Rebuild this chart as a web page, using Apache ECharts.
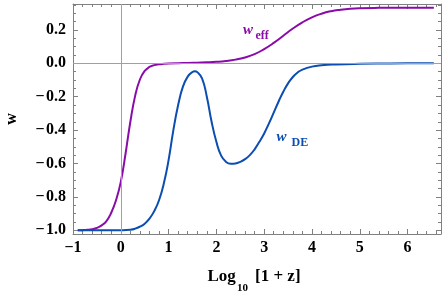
<!DOCTYPE html>
<html>
<head>
<meta charset="utf-8">
<script src="https://cdn.jsdelivr.net/npm/echarts@6/dist/echarts.min.js"></script>
<style>html,body{margin:0;padding:0;background:#fff}#c{width:442px;height:294px}</style>
</head>
<body>
<div id="c"></div>
<script>
// ---- data ----
var effX = [-0.9, -0.8, -0.7, -0.6, -0.5, -0.4, -0.3, -0.2, -0.1, 0.0, 0.1, 0.2, 0.3, 0.4, 0.5, 0.6, 0.7, 0.8, 0.9, 1.0, 1.2, 1.4, 1.6, 1.8, 2.0, 2.2, 2.4, 2.6, 2.8, 3.0, 3.2, 3.4, 3.6, 3.8, 4.0, 4.2, 4.4, 4.6, 4.8, 5.0, 5.4, 6.0, 6.55];
var effY = [-1.0, -0.999, -0.997, -0.993, -0.985, -0.97, -0.945, -0.895, -0.82, -0.71, -0.54, -0.35, -0.195, -0.097, -0.046, -0.022, -0.011, -0.006, -0.003, -0.001, 0.001, 0.002, 0.004, 0.006, 0.009, 0.014, 0.022, 0.035, 0.055, 0.085, 0.122, 0.165, 0.208, 0.245, 0.275, 0.297, 0.312, 0.321, 0.327, 0.33, 0.332, 0.333, 0.333];
var deX = [-0.9, -0.4, 0.0, 0.2, 0.3, 0.4, 0.5, 0.6, 0.7, 0.8, 0.9, 1.0, 1.1, 1.2, 1.3, 1.4, 1.5, 1.55, 1.6, 1.7, 1.8, 1.9, 2.0, 2.1, 2.2, 2.3, 2.4, 2.5, 2.6, 2.7, 2.8, 2.9, 3.0, 3.1, 3.2, 3.3, 3.4, 3.5, 3.6, 3.7, 3.8, 4.0, 4.2, 4.5, 5.0, 5.5, 6.0, 6.55];
var deY = [-1.0, -1.0, -0.999, -0.996, -0.99, -0.978, -0.96, -0.93, -0.885, -0.82, -0.72, -0.58, -0.40, -0.25, -0.14, -0.08, -0.052, -0.048, -0.053, -0.09, -0.20, -0.35, -0.47, -0.553, -0.59, -0.602, -0.6, -0.59, -0.574, -0.55, -0.515, -0.47, -0.42, -0.36, -0.295, -0.23, -0.17, -0.12, -0.082, -0.055, -0.038, -0.02, -0.012, -0.007, -0.003, -0.001, 0.0, 0.0];
var xTicks = [-1, 0, 1, 2, 3, 4, 5, 6];
var yTicks = [-1.0, -0.8, -0.6, -0.4, -0.2, 0.0, 0.2];
var xMinorStep = 0.2, yMinorStep = 0.05;
var xRange = [-1, 6.7], yRange = [-1.022, 0.355];

function minors(lo, hi, step, majors) {
  var out = [];
  for (var i = Math.ceil(lo / step - 1e-9); i * step <= hi + 1e-9; i++) {
    var v = +(i * step).toFixed(4);
    var isMajor = majors.some(function (m) { return Math.abs(m - v) < 1e-6; });
    if (!isMajor && v > lo && v < hi) out.push(v);
  }
  return out;
}
var xMinor = minors(xRange[0], xRange[1], xMinorStep, xTicks);
var yMinor = minors(yRange[0], yRange[1], yMinorStep, yTicks);

function pairs(xs, ys) { return xs.map(function (x, i) { return [x, ys[i]]; }); }

var FRAME = '#808080';
var FONT = 'Liberation Serif';
var PURPLE = '#8A0CA8';
var BLUE = '#0B4DB0';
function fmt(v, d, sp) {
  var s = Math.abs(v).toFixed(d);
  return (v < -1e-9 ? '\u2212' + sp : '') + s;
}
function mkX(pos, major, labels) {
  return {
    type: 'value', position: pos, min: xRange[0], max: xRange[1],
    axisLine: { show: major, onZero: false, lineStyle: { color: FRAME, width: 1 } },
    axisTick: { show: true, inside: true, length: major ? 5 : 3, customValues: major ? xTicks : xMinor, lineStyle: { color: FRAME, width: 1 } },
    axisLabel: { show: labels, customValues: xTicks, formatter: function (v) { return fmt(v, 0, ''); },
      fontFamily: FONT, fontWeight: 'bold', fontSize: 16, color: '#000', margin: 6 },
    splitLine: { show: false }, minorTick: { show: false }
  };
}
function mkY(pos, major, labels) {
  var ax = {
    type: 'value', position: pos, min: yRange[0], max: yRange[1],
    axisLine: { show: major, onZero: false, lineStyle: { color: FRAME, width: 1 } },
    axisTick: { show: true, inside: true, length: major ? 5 : 3, customValues: major ? yTicks : yMinor, lineStyle: { color: FRAME, width: 1 } },
    axisLabel: { show: labels, customValues: yTicks, formatter: function (v) { return fmt(v, 1, '\u200A'); },
      fontFamily: FONT, fontWeight: 'bold', fontSize: 16, color: '#000', margin: 7 },
    splitLine: { show: false }, minorTick: { show: false }
  };
  if (labels) {
    ax.name = 'w'; ax.nameLocation = 'middle'; ax.nameRotate = 90; ax.nameGap = 53;
    ax.nameTextStyle = { fontFamily: FONT, fontWeight: 'bold', fontSize: 16, color: '#000' };
  }
  return ax;
}

var chart = echarts.init(document.getElementById('c'), null, { renderer: 'canvas' });
chart.setOption({
  animation: false,
  backgroundColor: '#fff',
  grid: { left: 73, right: 1, top: 4, bottom: 60, containLabel: false, outerBoundsMode: 'none' },
  xAxis: [mkX('bottom', true, true), mkX('bottom', false, false), mkX('top', true, false), mkX('top', false, false)],
  yAxis: [mkY('left', true, true), mkY('left', false, false), mkY('right', true, false), mkY('right', false, false)],
  series: [
    { type: 'line', xAxisIndex: 0, yAxisIndex: 0, data: [], z: 1, silent: true,
      markLine: { silent: true, symbol: 'none', label: { show: false }, animation: false,
        lineStyle: { color: '#a0a0a0', width: 1, type: 'solid' },
        data: [{ xAxis: 0 }, { yAxis: 0 }] } },
    { name: 'w_eff', type: 'line', xAxisIndex: 0, yAxisIndex: 0, data: pairs(effX, effY), smooth: 0.5,
      showSymbol: false, z: 3, lineStyle: { color: PURPLE, width: 2 }, itemStyle: { color: PURPLE } },
    { name: 'w_DE', type: 'line', xAxisIndex: 0, yAxisIndex: 0, data: pairs(deX, deY), smooth: 0.5,
      showSymbol: false, z: 3, lineStyle: { color: BLUE, width: 2 }, itemStyle: { color: BLUE } }
  ],
  graphic: [
    { type: 'text', x: 243, y: 30.5, style: { text: 'w', fill: PURPLE, font: 'italic bold 15px "Liberation Serif"', align: 'left', verticalAlign: 'middle' } },
    { type: 'text', x: 255.5, y: 35.5, style: { text: 'eff', fill: PURPLE, font: 'bold 12px "Liberation Serif"', align: 'left', verticalAlign: 'middle' } },
    { type: 'text', x: 276.5, y: 137.5, style: { text: 'w', fill: BLUE, font: 'italic bold 15px "Liberation Serif"', align: 'left', verticalAlign: 'middle' } },
    { type: 'text', x: 291.5, y: 142.5, style: { text: 'DE', fill: BLUE, font: 'bold 12px "Liberation Serif"', align: 'left', verticalAlign: 'middle' } },
    { type: 'text', x: 207.5, y: 277, style: { text: 'Log', fill: '#000', font: 'bold 17px "Liberation Serif"', align: 'left', verticalAlign: 'middle' } },
    { type: 'text', x: 237, y: 288, style: { text: '10', fill: '#000', font: 'bold 11px "Liberation Serif"', align: 'left', verticalAlign: 'middle' } },
    { type: 'text', x: 255, y: 277, style: { text: '[1 + z]', fill: '#000', font: 'bold 17px "Liberation Serif"', align: 'left', verticalAlign: 'middle' } }
  ]
});
</script>
</body>
</html>
